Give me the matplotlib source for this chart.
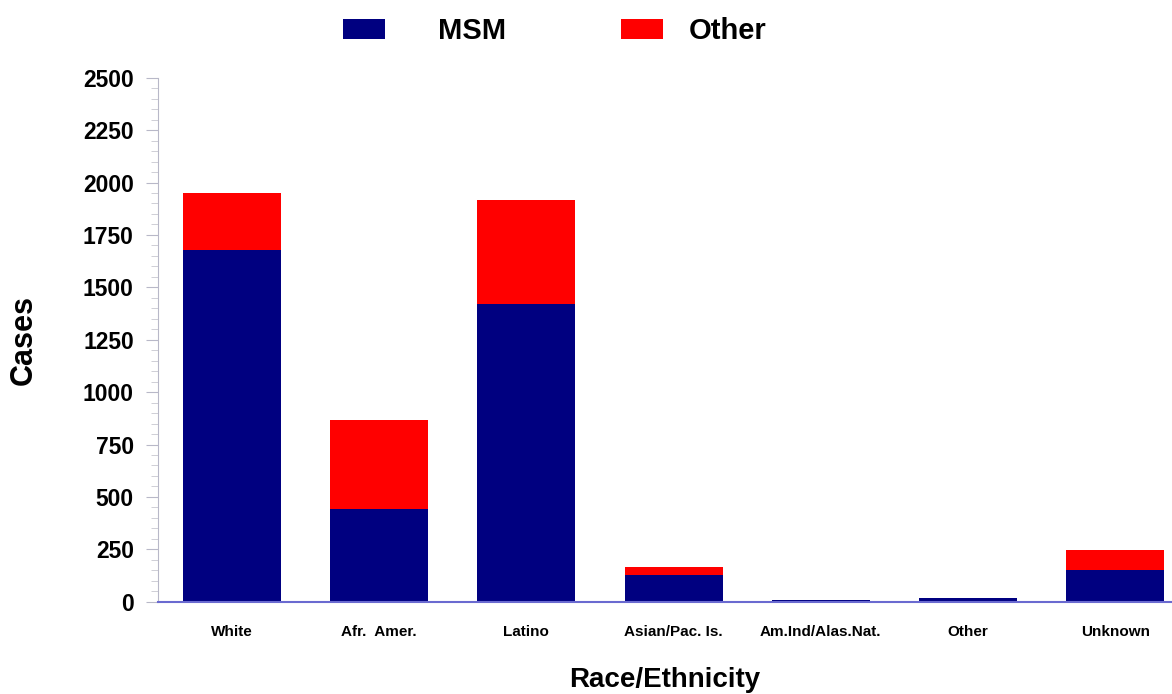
import matplotlib
matplotlib.use("Agg")
import matplotlib.pyplot as plt
from matplotlib.ticker import MultipleLocator
from matplotlib.patches import Patch
import numpy as np

categories = ["White", "Afr.  Amer.", "Latino", "Asian/Pac. Is.", "Am.Ind/Alas.Nat.", "Other", "Unknown"]
msm = [1680, 444, 1422, 129, 7, 16, 153]
other = [270, 424, 494, 36, 3, 4, 93]
yticks = [0, 250, 500, 750, 1000, 1250, 1500, 1750, 2000, 2250, 2500]

plt.rcParams['font.family'] = ['Liberation Sans', 'DejaVu Sans']
plt.rcParams['font.weight'] = 'bold'

fig = plt.figure(figsize=(11.72, 6.94), dpi=100)
ax = fig.add_axes([0.135, 0.133, 0.865, 0.755])

x = np.arange(len(categories))
w = 0.665
ax.bar(x, msm, w, color="#000080", edgecolor="none", zorder=2)
ax.bar(x, other, w, bottom=msm, color="#ff0000", edgecolor="none", zorder=2)

ax.set_xlim(-0.5, 6.385)
ax.set_ylim(0, 2500)
ax.set_yticks(yticks)
ax.yaxis.set_minor_locator(MultipleLocator(50))
ax.set_yticklabels([str(v) for v in yticks], fontsize=16.5, fontweight='bold')
ax.set_xticks(x)
ax.set_xticklabels(categories, fontsize=11, fontweight='bold')
ax.tick_params(axis='x', length=0, pad=17)
ax.tick_params(axis='y', which='major', length=8.6, color='#b8b8c8', pad=9)
ax.tick_params(axis='y', which='minor', length=5, color='#c8c8d0')

for s in ['top', 'right']:
    ax.spines[s].set_visible(False)
ax.spines['left'].set_color('#b8b8c8')
ax.spines['bottom'].set_color('#6a6ad0')
ax.spines['bottom'].set_linewidth(1.5)
ax.spines['bottom'].set_zorder(3)

ax.set_ylabel("Cases", fontsize=22, fontweight='bold', labelpad=32)
ax.set_xlabel("Race/Ethnicity", fontsize=20, fontweight='bold', labelpad=20)

legend_kw = dict(loc='center left', ncol=1, frameon=False, borderpad=0, borderaxespad=0,
                 prop={'size': 21, 'weight': 'bold'}, handlelength=1.44, handleheight=0.7)
leg1 = fig.legend(handles=[Patch(facecolor="#000080", label="MSM")],
                  bbox_to_anchor=(343 / 1172, 1 - 31 / 694), handletextpad=1.82, **legend_kw)
leg2 = fig.legend(handles=[Patch(facecolor="#ff0000", label="Other")],
                  bbox_to_anchor=(621 / 1172, 1 - 31 / 694), handletextpad=0.9, **legend_kw)

fig.savefig("out.png", dpi=100)
